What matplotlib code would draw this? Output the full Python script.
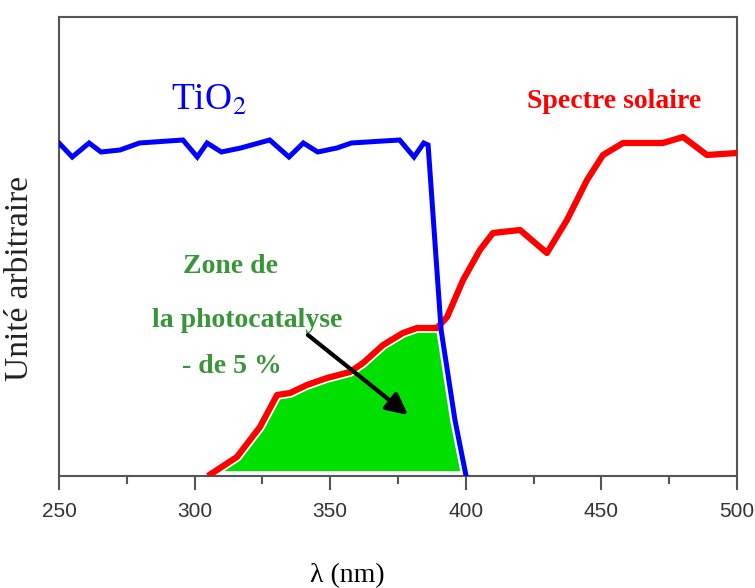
import matplotlib
matplotlib.use('Agg')
import matplotlib.pyplot as plt

plt.rcParams['font.family'] = ['Liberation Serif', 'DejaVu Serif']
plt.rcParams['mathtext.fontset'] = 'stix'

# absorbance du TiO2 (unite arbitraire)
tio2_nm = [250, 254.9, 261.1, 265.5, 272.5, 279.7, 295.7, 301.0, 304.6, 309.9,
           317.0, 327.7, 334.8, 340.1, 345.4, 352.5, 357.8, 375.6, 380.9, 384.5,
           386.1, 390.9, 396.0, 400.1]
tio2_val = [333, 319, 333, 324, 326, 333, 336, 319, 333, 324,
            328, 336, 319, 333, 324, 328, 333, 336, 319, 333,
            331, 146, 56, 0]

# spectre solaire au sol (unite arbitraire)
sol_nm = [304.9, 315.6, 324.1, 330.4, 335.2, 341.4, 348.8, 357.3, 362.1, 369.5,
          376.8, 382.0, 389.4, 393.1, 399.0, 405.2, 410.0, 420.0, 429.9, 437.3,
          444.7, 450.6, 458.0, 472.7, 480.1, 488.9, 500.0]
sol_val = [0, 19, 49, 81, 83, 91, 98, 104, 113, 131,
           143, 148, 148, 159, 196, 226, 243, 246, 223, 256,
           296, 321, 333, 333, 339, 321, 323]

xticks = [250, 300, 350, 400, 450, 500]
zone_lines = ['Zone de', 'la photocatalyse', '- de 5 %']

fig = plt.figure(figsize=(7.55, 5.88), dpi=100)
ax = fig.add_axes([0.0781, 0.1905, 0.8981, 0.7806])

# zone verte : sous le spectre solaire tant que le TiO2 absorbe
zone_x = [x for x in sol_nm if x <= 389.4] + [x for x in tio2_nm if x >= 390.9]
zone_y = [v for x, v in zip(sol_nm, sol_val) if x <= 389.4] + \
         [v for x, v in zip(tio2_nm, tio2_val) if x >= 390.9]
ax.fill(zone_x, zone_y, facecolor='#00e000', edgecolor='white', lw=7, zorder=1)

ax.plot(sol_nm, sol_val, color='#ff0000', lw=4.5, solid_capstyle='butt', zorder=3)
ax.plot(tio2_nm, tio2_val, color='#0000ff', lw=3.6, solid_joinstyle='miter', zorder=4)

ax.annotate('', xy=(378.7, 61), xytext=(341.8, 141),
            arrowprops=dict(arrowstyle='-|>', color='black', lw=3,
                            mutation_scale=32, shrinkA=0, shrinkB=0), zorder=5)

ax.text(291.3, 366, 'TiO$_2$', color='#0000ff', fontsize=27, ha='left', va='baseline')
ax.text(422.6, 368, 'Spectre solaire', color='#ff0000', fontsize=20,
        fontweight='bold', ha='left', va='baseline')
for txt, xc, yb in zip(zone_lines, [313.1, 319.3, 313.8], [203, 149, 103]):
    ax.text(xc, yb, txt, color='#3a953a', fontsize=20, fontweight='bold',
            ha='center', va='baseline')

ax.set_xlim(250, 500)
ax.set_ylim(0, 459)
ax.set_xticks(xticks)
ax.set_xticks([275, 325, 375, 425, 475], minor=True)
ax.set_yticks([])
ax.tick_params(axis='x', which='major', direction='out', length=10, width=1.5,
               color='#555555', pad=9)
ax.tick_params(axis='x', which='minor', direction='out', length=6, width=1.5,
               color='#555555')
for lab in ax.get_xticklabels():
    lab.set_family(['Liberation Sans Narrow', 'Liberation Sans'])
    lab.set_fontsize(15)
    lab.set_color('#333333')

for sp in ax.spines.values():
    sp.set_color('#555555')
    sp.set_linewidth(1.5)

ax.set_xlabel('λ (nm)', fontsize=20)
ax.xaxis.set_label_coords(0.4248, -0.189)
ax.set_ylabel('Unité arbitraire', fontsize=24, color='#222222')
ax.yaxis.set_label_coords(-0.036, 0.43)

fig.savefig('out.png', dpi=100)
